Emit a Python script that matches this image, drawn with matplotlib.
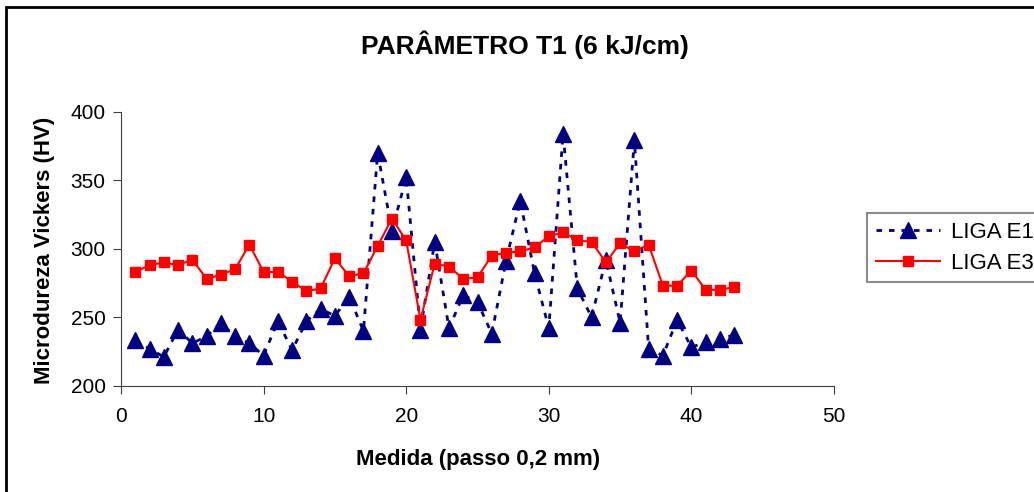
import matplotlib
matplotlib.use("Agg")
import matplotlib.pyplot as plt
from matplotlib.patches import Rectangle

plt.rcParams['font.family'] = ['Liberation Sans', 'DejaVu Sans']

medida = list(range(1, 44))
liga_e1 = [233, 227, 221, 241, 231, 236, 246, 236, 231, 222,
           247, 226, 247, 256, 251, 265, 240, 370, 313, 352,
           241, 305, 242, 266, 261, 238, 291, 335, 282, 242,
           384, 271, 250, 292, 246, 379, 227, 222, 248, 228,
           232, 234, 237]
liga_e3 = [283, 288, 290, 288, 292, 278, 281, 285, 303, 283,
           283, 276, 269, 271, 293, 280, 282, 302, 322, 306,
           248, 289, 287, 278, 279, 295, 297, 298, 301, 309,
           312, 306, 305, 290, 304, 298, 303, 273, 273, 284,
           270, 270, 272]
x_ticks = [0, 10, 20, 30, 40, 50]
y_ticks = [200, 250, 300, 350, 400]

W, H = 1034, 492
fig = plt.figure(figsize=(W / 100, H / 100), dpi=100)
ax = fig.add_axes([121 / W, 1 - 385.7 / H, (834 - 121) / W, (385.7 - 111.7) / H])

# outer chart frame (cut off on right and bottom like the original)
fig.patches.append(Rectangle((6 / W, -0.1), 1.2, 1 - 7 / H + 0.1, transform=fig.transFigure,
                             fill=False, edgecolor='black', linewidth=2))

ax.plot(medida, liga_e1, color='#000080', linestyle=(0, (2, 2.5)), linewidth=2,
        marker='^', markersize=11, markerfacecolor='#000080', markeredgecolor='#000080',
        label='LIGA E1')
ax.plot(medida, liga_e3, color='#FF0000', linestyle='-', linewidth=1.5,
        marker='s', markersize=7.5, markerfacecolor='#FF0000', markeredgecolor='#FF0000',
        label='LIGA E3')

ax.set_xlim(0, 50)
ax.set_ylim(200, 400)
ax.set_xticks(x_ticks)
ax.set_yticks(y_ticks)
ax.tick_params(labelsize=15, direction='out', length=6, color='#404040', pad=5)
ax.tick_params(axis='x', pad=9)
for s in ['top', 'right']:
    ax.spines[s].set_visible(False)
for s in ['left', 'bottom']:
    ax.spines[s].set_color('#404040')
ax.patch.set_visible(False)

fig.text(525 / W, 1 - 45 / H, 'PARÂMETRO T1 (6 kJ/cm)', ha='center', va='center',
         fontsize=19, fontweight='bold')
fig.text(478 / W, 1 - 460 / H, 'Medida (passo 0,2 mm)', ha='center', va='center',
         fontsize=16, fontweight='bold')
fig.text(45 / W, 1 - 250 / H, 'Microdureza Vickers (HV)', ha='center', va='center',
         rotation=90, fontsize=16, fontweight='bold')

leg = fig.legend(loc='upper left', bbox_to_anchor=(866.7 / W, 1 - 212.7 / H),
                 bbox_transform=fig.transFigure, borderaxespad=0, fontsize=16,
                 handlelength=2.9, handletextpad=0.5, labelspacing=0.45,
                 borderpad=0.4, fancybox=False)
leg.get_frame().set_edgecolor('#707070')
leg.get_frame().set_linewidth(1.5)

fig.savefig('out.png', dpi=100)
